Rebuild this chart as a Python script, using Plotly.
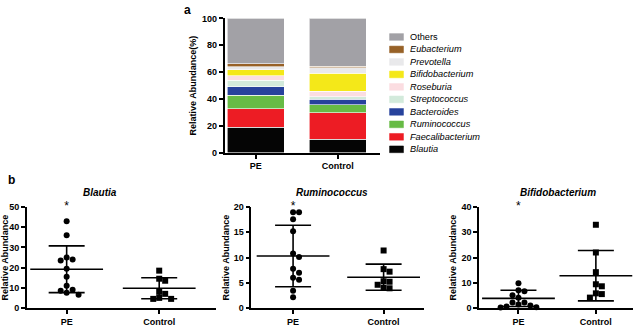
import numpy as np
import plotly.graph_objects as go

W, H = 637, 327
FONT = "Liberation Sans, Arial, sans-serif"

# ---------------- data: panel a ----------------
groups = ["PE", "Control"]
taxa = ["Blautia", "Faecalibacterium", "Ruminococcus", "Bacteroides", "Streptococcus",
        "Roseburia", "Bifidobacterium", "Prevotella", "Eubacterium", "Others"]
pe_abund = [19.1, 13.9, 10.0, 6.3, 4.7, 3.4, 4.3, 2.2, 2.4, 33.7]
ctrl_abund = [10.0, 19.9, 6.0, 4.1, 1.6, 4.3, 13.2, 4.3, 1.2, 35.4]
taxa_colors = ["#050505", "#ED1C24", "#67BB45", "#27429C", "#D2EADB",
               "#FBDDE1", "#F4E819", "#E9E9EB", "#976127", "#A2A1A6"]

# ---------------- data: panel b ----------------
panel_titles = ["Blautia", "Ruminococcus", "Bifidobacterium"]
blautia_pe = [43, 36, 25, 23.5, 24, 19.5, 15.5, 11, 8.5, 9, 7.5, 6.5]
blautia_ctrl = [18.5, 14.5, 13.5, 8, 7, 5, 4.5, 4.5]
rumino_pe = [19, 19, 17.6, 15.2, 10.8, 10.1, 7.8, 7.0, 6.0, 5.6, 3.4, 2.1]
rumino_ctrl = [11.4, 7.7, 7.2, 5.3, 5.2, 4.6, 4.0, 3.9]
bifido_pe = [9.8, 7.0, 6.6, 5.0, 4.0, 2.2, 2.2, 1.4, 1.0, 0.6, 0.3, 0.2]
bifido_ctrl = [33, 22, 14.2, 9.4, 8.6, 5.8, 5.5, 4.1]
means_pe = [19.2, 10.3, 3.8]
sd_pe = [11.6, 6.1, 3.2]
means_ctrl = [9.8, 6.1, 12.8]
sd_ctrl = [5.2, 2.6, 10.0]
y_max = [50, 20, 40]
y_dtick = [10, 5, 10]

pe_sets = [blautia_pe, rumino_pe, bifido_pe]
ctrl_sets = [blautia_ctrl, rumino_ctrl, bifido_ctrl]


def px(x):
    return x / W


def py(y):
    return 1 - y / H


def beeswarm(vals, y_per_px, x_per_px, diam=6.0):
    """Simple deterministic beeswarm offsets (in x data units)."""
    order = np.argsort(vals)[::-1]
    placed = []
    offs = np.zeros(len(vals))
    for i in order:
        v = vals[i]
        cands = [0.0]
        for s in range(1, 8):
            cands += [s * diam, -s * diam]
        for c in cands:
            ok = True
            for (pv, pc) in placed:
                dy = (v - pv) / y_per_px
                dx = c - pc
                if dx * dx + dy * dy < diam * diam * 0.9:
                    ok = False
                    break
            if ok:
                offs[i] = c * x_per_px
                placed.append((v, c))
                break
    return offs


fig = go.Figure()

# ---------------- panel a: stacked bars ----------------
for name, a, b, col in zip(taxa, pe_abund, ctrl_abund, taxa_colors):
    fig.add_trace(go.Bar(x=[0, 1], y=[a, b], name=name, marker_color=col,
                         marker_line=dict(color="white", width=0.6),
                         width=0.69, showlegend=False, xaxis="x", yaxis="y"))

axis_common = dict(showline=True, linecolor="black", linewidth=1.6, ticks="outside",
                   tickcolor="black", tickwidth=1.6, ticklen=4, showgrid=False,
                   zeroline=False, tickfont=dict(family=FONT, size=9, color="black"))

fig.update_layout(
    barmode="stack",
    xaxis=dict(domain=[px(222), px(378)], range=[-0.38, 1.51], tickvals=[0, 1],
               ticktext=["<b>PE</b>", "<b>Control</b>"], anchor="y", **axis_common),
    yaxis=dict(domain=[py(154), py(14)], range=[0, 100], dtick=20, anchor="x",
               tickprefix="<b>", ticksuffix="</b>",
               title=dict(text="<b>Relative Abundance(%)</b>",
                          font=dict(family=FONT, size=9, color="black"), standoff=4),
               **axis_common),
)

# legend drawn manually (reverse order, top = Others)
shapes = []
annotations = []
leg_top, leg_step = 33.3, 13.0
for j, (name, col) in enumerate(zip(taxa[::-1], taxa_colors[::-1])):
    yc = leg_top + j * leg_step
    shapes.append(dict(type="rect", xref="paper", yref="paper",
                       x0=px(388), x1=px(402), y0=py(yc + 3.5), y1=py(yc - 3.5),
                       fillcolor=col, line=dict(color=col, width=0.5)))
    label = name if name == "Others" else "<i>" + name + "</i>"
    annotations.append(dict(text=label, xref="paper", yref="paper", x=px(407), y=py(yc),
                            xanchor="left", yanchor="middle", showarrow=False,
                            font=dict(family=FONT, size=9.2, color="black")))

annotations.append(dict(text="<b>a</b>", xref="paper", yref="paper", x=px(179), y=py(5),
                        xanchor="left", yanchor="middle", showarrow=False,
                        font=dict(family=FONT, size=12, color="black")))
annotations.append(dict(text="<b>b</b>", xref="paper", yref="paper", x=px(2), y=py(182),
                        xanchor="left", yanchor="middle", showarrow=False,
                        font=dict(family=FONT, size=12, color="black")))

# ---------------- panel b: dot plots ----------------
x_doms = [(23, 213), (249, 423), (478, 633)]
x_ranges = [(-0.43, 1.61), (-0.46, 1.45), (-0.51, 1.48)]
title_x = [97, 330, 557]
y_bot, y_top = 315.5, 210.5
for k in range(3):
    xa = "x%d" % (k + 2)
    ya = "y%d" % (k + 2)
    x0p, x1p = x_doms[k]
    r0, r1 = x_ranges[k]
    x_per_px = (r1 - r0) / (x1p - x0p)
    y_per_px = y_max[k] / (y_bot - y_top)
    pe = np.array(pe_sets[k], dtype=float)
    ct = np.array(ctrl_sets[k], dtype=float)
    off_pe = beeswarm(pe, y_per_px, x_per_px)
    off_ct = beeswarm(ct, y_per_px, x_per_px)
    fig.add_trace(go.Scatter(x=0 + off_pe, y=pe, mode="markers", showlegend=False,
                             marker=dict(symbol="circle", size=6, color="black"),
                             xaxis=xa, yaxis=ya, cliponaxis=False))
    fig.add_trace(go.Scatter(x=1 + off_ct, y=ct, mode="markers", showlegend=False,
                             marker=dict(symbol="square", size=6, color="black"),
                             xaxis=xa, yaxis=ya, cliponaxis=False))
    # mean lines + SD error bars
    fig.add_trace(go.Scatter(x=[0, 1], y=[means_pe[k], means_ctrl[k]], mode="markers",
                             showlegend=False, xaxis=xa, yaxis=ya, cliponaxis=False,
                             marker=dict(symbol="line-ew-open", size=52, color="black",
                                         line=dict(color="black", width=1.6)),
                             error_y=dict(type="data", array=[sd_pe[k], sd_ctrl[k]],
                                          color="black", thickness=1.6, width=18)))
    # significance star
    fig.add_trace(go.Scatter(x=[0], y=[y_max[k]], mode="text", text=["*"],
                             textfont=dict(family=FONT, size=12, color="black"),
                             textposition="middle center", showlegend=False,
                             xaxis=xa, yaxis=ya, cliponaxis=False))
    fig.layout["xaxis%d" % (k + 2)] = dict(
        domain=[px(x0p), px(x1p)], range=[r0, r1], tickvals=[0, 1],
        ticktext=["<b>PE</b>", "<b>Control</b>"], anchor=ya, **axis_common)
    fig.layout["yaxis%d" % (k + 2)] = dict(
        domain=[py(y_bot), py(y_top)], range=[0, y_max[k]], dtick=y_dtick[k], anchor=xa,
        tickprefix="<b>", ticksuffix="</b>",
        title=dict(text="<b>Relative Abundance</b>",
                   font=dict(family=FONT, size=9, color="black"), standoff=3),
        **axis_common)
    annotations.append(dict(text="<b><i>%s</i></b>" % panel_titles[k], xref="paper",
                            yref="paper", x=px(title_x[k]),
                            y=py(195), xanchor="center", yanchor="middle",
                            showarrow=False,
                            font=dict(family=FONT, size=10, color="black")))

fig.update_layout(width=W, height=H, margin=dict(l=0, r=0, t=0, b=0),
                  paper_bgcolor="white", plot_bgcolor="white",
                  shapes=shapes, annotations=annotations, showlegend=False,
                  font=dict(family=FONT, color="black"))

fig.write_html("out.html")
